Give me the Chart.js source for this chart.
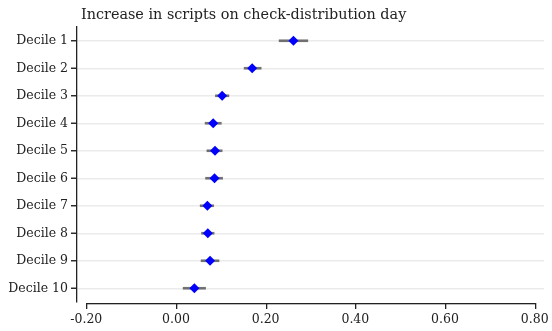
<!DOCTYPE html>
<html>
<head>
<meta charset="utf-8">
<script src="https://cdn.jsdelivr.net/npm/chart.js@4.4.1/dist/chart.umd.min.js"></script>
<style>
  html, body { margin: 0; padding: 0; background: #fff; }
  #wrap { width: 552px; height: 331px; position: relative; }
</style>
</head>
<body>
<div id="wrap"><canvas id="chart"></canvas></div>
<script>
// Data
const deciles = ['Decile 1', 'Decile 2', 'Decile 3', 'Decile 4', 'Decile 5',
                 'Decile 6', 'Decile 7', 'Decile 8', 'Decile 9', 'Decile 10'];
const estimates = [0.262, 0.170, 0.103, 0.083, 0.087, 0.086, 0.070, 0.071, 0.076, 0.041];
const lowerCI = [0.230, 0.152, 0.088, 0.065, 0.069, 0.066, 0.054, 0.057, 0.056, 0.016];
const upperCI = [0.294, 0.190, 0.118, 0.101, 0.103, 0.104, 0.084, 0.085, 0.096, 0.066];
const xTicks = [-0.2, 0, 0.2, 0.4, 0.6, 0.8];
const titleText = 'Increase in scripts on check-distribution day';

const serif = "'DejaVu Serif', serif";
Chart.defaults.font.family = serif;
Chart.defaults.color = '#222';

// title, offset x spine (only spans the tick range) and tick marks
const decorations = {
    id: 'decorations',
    afterDraw(chart) {
        const ctx = chart.ctx;
        const x = chart.scales.x;
        const y = chart.scales.y;
        const area = chart.chartArea;
        const xAxisY = Math.round(area.bottom) + 1;
        ctx.save();
        ctx.fillStyle = '#222';

        // x spine and ticks
        const x0 = x.getPixelForValue(xTicks[0]);
        const x1 = x.getPixelForValue(xTicks[xTicks.length - 1]);
        ctx.fillRect(Math.round(x0), xAxisY, Math.round(x1 - x0) + 1, 1.3);
        for (const v of xTicks) {
            ctx.fillRect(Math.round(x.getPixelForValue(v)), xAxisY, 1.3, 6);
        }
        // y ticks
        for (let i = 0; i < deciles.length; i++) {
            const py = y.getPixelForTick(i);
            ctx.fillRect(Math.round(area.left) - 6, py - 0.7, 6, 1.4);
        }

        ctx.font = '14.4px ' + serif;
        ctx.textBaseline = 'middle';
        ctx.textAlign = 'left';
        ctx.fillText(titleText, 81, 15);
        ctx.restore();
    }
};

new Chart(document.getElementById('chart'), {
    data: {
        labels: deciles,
        datasets: [{
            type: 'line',
            label: 'Estimate',
            data: estimates,
            showLine: false,
            pointStyle: 'rectRot',
            pointRadius: 5,
            pointBackgroundColor: '#0000ff',
            pointBorderColor: '#0000ff',
            pointBorderWidth: 0,
            order: 0
        }, {
            type: 'bar',
            label: '95% CI',
            data: lowerCI.map((lo, i) => [lo, upperCI[i]]),
            backgroundColor: 'rgba(80, 80, 80, 0.8)',
            borderWidth: 0,
            barThickness: 2,
            order: 1
        }]
    },
    options: {
        indexAxis: 'y',
        responsive: true,
        maintainAspectRatio: false,
        animation: false,
        layout: { padding: { top: 27, right: 8, left: 0, bottom: 0 } },
        plugins: {
            legend: { display: false },
            tooltip: { enabled: false }
        },
        scales: {
            x: {
                type: 'linear',
                min: -0.2207,
                max: 0.8207,
                afterBuildTicks: (scale) => {
                    scale.ticks = xTicks.map(v => ({ value: v }));
                },
                afterFit: (scale) => {
                    scale.height = 29;
                    scale.paddingLeft = 0;
                    scale.paddingRight = 0;
                },
                border: { display: false },
                grid: {
                    drawOnChartArea: false,
                    drawTicks: true,
                    tickLength: 5,
                    tickColor: 'rgba(0,0,0,0)'
                },
                ticks: {
                    padding: 5,
                    maxRotation: 0,
                    font: { size: 12.5 },
                    callback: (v) => Number(v).toFixed(2)
                }
            },
            y: {
                type: 'category',
                offset: true,
                afterFit: (scale) => {
                    scale.width = 77;
                    scale.paddingTop = 0;
                    scale.paddingBottom = 0;
                },
                border: { display: true, color: '#222', width: 1.3 },
                grid: {
                    offset: false,
                    color: '#ebebeb',
                    lineWidth: 1.5,
                    tickColor: 'rgba(0,0,0,0)',
                    tickLength: 5
                },
                ticks: {
                    padding: 4,
                    font: { size: 12.5 }
                }
            }
        }
    },
    plugins: [decorations]
});
</script>
</body>
</html>
